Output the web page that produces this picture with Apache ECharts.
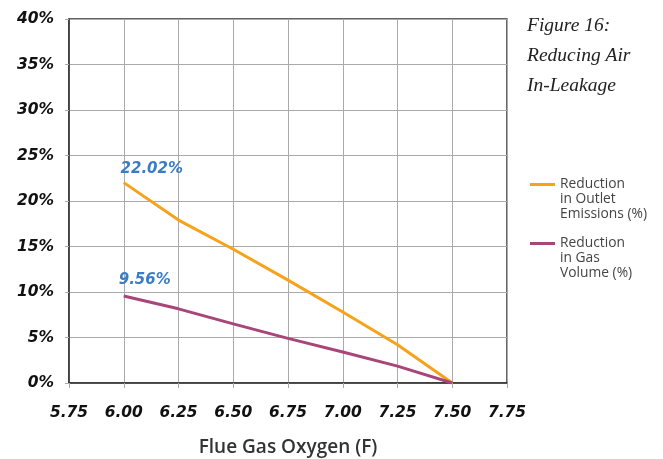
<!DOCTYPE html>
<html>
<head>
<meta charset="utf-8">
<script src="https://cdn.jsdelivr.net/npm/echarts@6/dist/echarts.min.js"></script>
<style>
html,body{margin:0;padding:0;background:#fff;}
#c{width:663px;height:459px;}
</style>
</head>
<body>
<div id="c"></div>
<script>
// Data
const oxygen = [6.00, 6.25, 6.50, 6.75, 7.00, 7.25, 7.50];
const outletEmissions = [22.02, 17.9, 14.7, 11.3, 7.8, 4.2, 0];
const gasVolume = [9.56, 8.15, 6.5, 4.9, 3.4, 1.85, 0];
const seriesNames = ['Reduction\nin Outlet\nEmissions (%)', 'Reduction\nin Gas\nVolume (%)'];
const titleText = 'Figure 16:\nReducing Air\nIn-Leakage';
const xAxisName = 'Flue Gas Oxygen (F)';

const tickFont = {fontFamily: 'DejaVu Sans', fontWeight: 'bold', fontStyle: 'italic', fontSize: 15.5, color: '#111'};
const labelStyle = {fontFamily: 'DejaVu Sans', fontWeight: 'bold', fontStyle: 'italic', fontSize: 15, color: '#3a7dc5'};

const chart = echarts.init(document.getElementById('c'));
chart.setOption({
  animation: false,
  backgroundColor: '#fff',
  title: {
    text: titleText,
    left: 522, top: 6,
    textStyle: {fontFamily: 'Liberation Serif', fontStyle: 'italic', fontWeight: 'normal', fontSize: 19.5, lineHeight: 30, color: '#222'}
  },
  legend: {
    orient: 'vertical',
    left: 525, top: 142,
    itemWidth: 25, itemHeight: 14, itemGap: -16,
    icon: 'path://M0,6 L25,6 L25,9 L0,9 Z',
    formatter: name => '\n\n' + name,
    textStyle: {fontFamily: 'Open Sans', fontSize: 13.8, lineHeight: 15, color: '#444'},
    data: seriesNames
  },
  grid: {
    left: 69, top: 19, right: 156, bottom: 76,
    outerBoundsMode: 'none',
    show: true, borderColor: '#333', borderWidth: 1.5, backgroundColor: 'transparent'
  },
  xAxis: {
    type: 'value', min: 5.75, max: 7.75, interval: 0.25,
    name: xAxisName, nameLocation: 'middle', nameGap: 55,
    nameTextStyle: {fontFamily: 'Open Sans', fontWeight: 600, fontSize: 19, color: '#333'},
    axisLine: {show: true, lineStyle: {color: '#333', width: 1.5}},
    axisTick: {show: true, length: 5, lineStyle: {color: '#aaa'}},
    axisLabel: Object.assign({margin: 22, formatter: v => v.toFixed(2)}, tickFont),
    splitLine: {show: true, lineStyle: {color: '#aaa', width: 1}}
  },
  yAxis: {
    type: 'value', min: 0, max: 40, interval: 5,
    axisLine: {show: true, lineStyle: {color: '#333', width: 1.5}},
    axisTick: {show: true, length: 4, lineStyle: {color: '#aaa'}},
    axisLabel: Object.assign({margin: 15, formatter: '{value}%'}, tickFont),
    splitLine: {show: true, lineStyle: {color: '#aaa', width: 1}}
  },
  series: [
    {
      name: seriesNames[0], type: 'line', showSymbol: false, symbol: 'none',
      color: '#f7a21b', lineStyle: {width: 3, color: '#f7a21b'},
      data: oxygen.map((x, i) => [x, outletEmissions[i]]),
      markPoint: {
        symbol: 'circle', symbolSize: 0,
        data: [{coord: [oxygen[0], outletEmissions[0]], value: outletEmissions[0].toFixed(2) + '%'}],
        label: Object.assign({show: true, position: 'top', offset: [28, -1], formatter: p => p.value}, labelStyle)
      }
    },
    {
      name: seriesNames[1], type: 'line', showSymbol: false, symbol: 'none',
      color: '#a8467a', lineStyle: {width: 3, color: '#a8467a'},
      data: oxygen.map((x, i) => [x, gasVolume[i]]),
      markPoint: {
        symbol: 'circle', symbolSize: 0,
        data: [{coord: [oxygen[0], gasVolume[0]], value: gasVolume[0].toFixed(2) + '%'}],
        label: Object.assign({show: true, position: 'top', offset: [21, -3], formatter: p => p.value}, labelStyle)
      }
    }
  ]
});
</script>
</body>
</html>
